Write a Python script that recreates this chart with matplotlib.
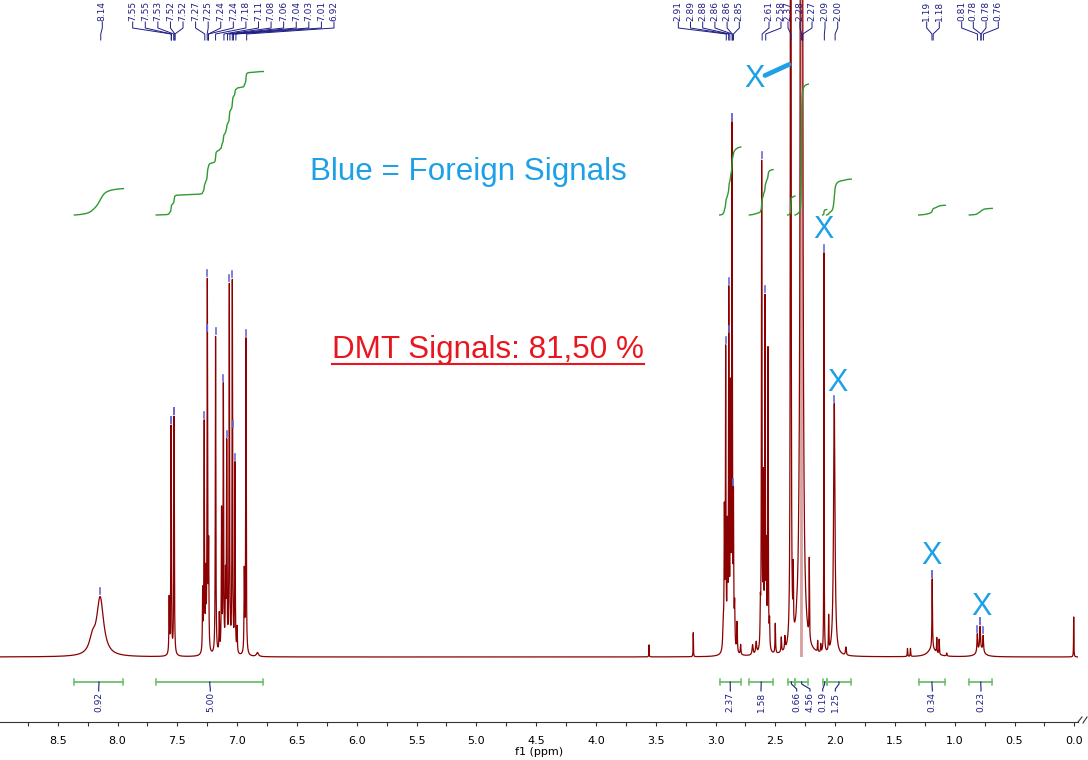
import numpy as np
import matplotlib
matplotlib.use('Agg')
import matplotlib.pyplot as plt
from matplotlib.ticker import MultipleLocator, FuncFormatter
from matplotlib.lines import Line2D

# peak list: shift (ppm), height (px above baseline), line width (ppm)
peak_ppm = [8.210, 8.145,
            7.568, 7.552, 7.527,
            7.288, 7.275, 7.262, 7.249, 7.238,
            7.180,
            7.149, 7.130, 7.115, 7.097, 7.087,
            7.065, 7.040, 7.018, 7.000,
            6.940, 6.926, 6.830,
            3.556, 3.186,
            2.935, 2.926, 2.915, 2.901, 2.889, 2.875, 2.862, 2.850, 2.840, 2.820, 2.790,
            2.690, 2.660,
            2.625, 2.614, 2.600, 2.586, 2.575, 2.561, 2.548,
            2.500, 2.450, 2.420,
            2.371, 2.350, 2.320, 2.281, 2.216, 2.146, 2.120,
            2.093, 2.054, 2.007, 1.910,
            1.395, 1.370, 1.190, 1.188, 1.150, 1.130, 1.067,
            0.785, 0.811, 0.788, 0.762,
            0.005]
peak_height = [14, 58,
               55, 228, 238,
               60, 228, 70, 368, 100,
               318,
               38, 140, 265, 70, 205,
               365, 370, 188, 25,
               80, 316, 4,
               12, 24,
               25, 130, 295, 110, 350, 245, 515, 140, 40, 30, 10,
               10, 12,
               35, 485, 160, 345, 90, 300, 25,
               30, 15, 13,
               4000, 60, 8, 20000, 80, 11, 8,
               400, 35, 252, 8,
               8, 8, 8, 70, 15, 15, 3,
               8, 18, 22, 16,
               40]
peak_width = [0.06, 0.07,
              0.005, 0.005, 0.005,
              0.005, 0.005, 0.005, 0.005, 0.005,
              0.005,
              0.005, 0.005, 0.005, 0.005, 0.005,
              0.005, 0.005, 0.005, 0.005,
              0.005, 0.005, 0.02,
              0.003, 0.003,
              0.01, 0.005, 0.005, 0.005, 0.005, 0.005, 0.005, 0.005, 0.006, 0.006, 0.006,
              0.01, 0.01,
              0.005, 0.005, 0.005, 0.005, 0.005, 0.005, 0.005,
              0.005, 0.006, 0.006,
              0.003, 0.004, 0.005, 0.004, 0.004, 0.004, 0.004,
              0.003, 0.004, 0.014, 0.008,
              0.004, 0.004, 0.08, 0.005, 0.004, 0.004, 0.006,
              0.06, 0.007, 0.007, 0.007,
              0.003]

# picked peaks shown on top
pick_labels = ['8.14',
               '7.55', '7.55', '7.53', '7.52', '7.52', '7.27', '7.25', '7.24', '7.24',
               '7.18', '7.11', '7.08', '7.06', '7.04', '7.03', '7.01', '6.92',
               '2.91', '2.89', '2.88', '2.86', '2.86', '2.85',
               '2.61', '2.58', '2.37', '2.28', '2.27', '2.09', '2.00',
               '1.19', '1.18',
               '0.81', '0.78', '0.78', '0.76']

# integral regions
int_from = [8.36, 7.676, 2.965, 2.717, 2.396, 2.335, 2.104, 2.070, 1.301, 0.878]
int_to = [7.95, 6.781, 2.789, 2.519, 2.335, 2.224, 2.070, 1.865, 1.079, 0.686]
int_value = [0.92, 5.00, 2.37, 1.58, 0.66, 4.56, 0.19, 1.25, 0.34, 0.23]

navy = '#1c1c84'
red_dark = '#8b0000'
green = '#2f9a2f'
blue = '#1ea0e6'

# pixel layout of the original screenshot
W, H = 1088, 760
X0, PXPPM, BASE = 1074.3, 119.6, 657


def xp(px):
    return (X0 - px) / PXPPM


def yp(py):
    return BASE - py


fig = plt.figure(figsize=(W / 100, H / 100), dpi=100)
ax = fig.add_axes([0, 38 / H, 1078 / W, 722 / H])
ax.set_xlim(xp(0), xp(1078))
ax.set_ylim(-65, 657)

ppm = np.linspace(xp(0), xp(1078), 120000)
spec = np.zeros_like(ppm)
for c, h, w in zip(peak_ppm, peak_height, peak_width):
    spec += h / (1 + ((ppm - c) / (w / 2)) ** 2)

big = np.abs(ppm - 2.281) < 0.012
ax.fill_between(ppm[big], 0, spec[big], color='#d6a2a2', lw=0)
ax.plot(ppm, spec, color=red_dark, lw=0.9)

# integral curves and bars
for a, b, v in zip(int_from, int_to, int_value):
    m = (ppm <= a) & (ppm >= b)
    cum = np.cumsum(spec[m])
    cum = cum / cum[-1] * v * 28.7 + yp(215)
    ax.plot(ppm[m], cum, color=green, lw=1)
    ax.plot([a, b], [yp(682)] * 2, color='#6cbf6c', lw=1.3)
    for e in (a, b):
        ax.plot([e, e], [yp(679), yp(685)], color='#6cbf6c', lw=1.1)

int_label_px = [98.7, 210.3, 730.3, 761, 796.7, 810, 822.7, 835.3, 932.3, 981]
for a, b, v, lx in zip(int_from, int_to, int_value, int_label_px):
    cx = (a + b) / 2
    ax.plot([cx, cx, xp(lx), xp(lx)], [yp(682), yp(684), yp(689), yp(691)], color=navy, lw=0.8)
    ax.text(xp(lx), yp(692), '%.2f' % v, rotation=90, ha='center', va='top',
            fontsize=6.5, color=navy)

# peak picking labels
label_px = ([102.3] + [132.7 + 12.58 * i for i in range(17)] +
            [678.3 + 12.2 * i for i in range(6)] +
            [769, 781, 788, 800, 812, 825, 837.7] +
            [926.7, 939.3] + [961.7, 973.3, 986, 998.3])
for lab, lx in zip(pick_labels, label_px):
    v = float(lab)
    ax.text(xp(lx), yp(21), lab, rotation=90, ha='center', va='bottom',
            fontsize=6.5, color=navy)
    ax.plot([xp(lx), xp(lx), v, v], [yp(22), yp(28), yp(34), yp(40)], color=navy, lw=0.7)
    win = np.abs(ppm - v) < 0.008
    k = np.argmax(np.where(win, spec, -1))
    if spec[k] < 640:
        ax.plot([ppm[k], ppm[k]], [spec[k] + 2, spec[k] + 8], color='#6a6ad2', lw=1.2)

# annotations
ax.text(xp(310), yp(180), 'Blue = Foreign Signals', fontsize=22.6, color=blue,
        family='Liberation Sans', ha='left', va='baseline')
t = ax.text(xp(332), yp(358), 'DMT Signals: 81,50 %', fontsize=22.6, color='#e8161e',
            family='Liberation Sans', ha='left', va='baseline')
for px, py in [(754.5, 87), (823.5, 238), (838, 391), (931, 564), (981, 615)]:
    ax.text(xp(px), yp(py), 'X', fontsize=22, color=blue, family='Liberation Sans',
            ha='center', va='baseline')
ax.plot([xp(765), xp(789)], [yp(75.5), yp(64.5)], color=blue, lw=3.4, solid_capstyle='round')

fig.canvas.draw()
bb = t.get_window_extent(fig.canvas.get_renderer())
inv = ax.transData.inverted()
ul0 = inv.transform((bb.x0, 0))[0]
ul1 = inv.transform((bb.x1, 0))[0]
ax.plot([ul0, ul1], [yp(364)] * 2, color='#e8161e', lw=1.5)

# axis
for s in ['top', 'left', 'right']:
    ax.spines[s].set_visible(False)
ax.spines['bottom'].set_color('#333333')
ax.set_yticks([])
ax.xaxis.set_major_locator(MultipleLocator(0.5))
ax.xaxis.set_minor_locator(MultipleLocator(0.25))
ax.xaxis.set_major_formatter(FuncFormatter(lambda v, _: ('%.1f' % v).replace('-0.0', '0.0')))
ax.tick_params(axis='x', which='both', direction='out', length=3, width=0.8,
               color='#333333', labelsize=8, pad=7)
ax.set_xlabel('f1 (ppm)', fontsize=8, labelpad=1)

fig.add_artist(Line2D([1078 / W, 1082 / W], [(H - 722) / H, (H - 717) / H], color='#333333', lw=0.8))
fig.add_artist(Line2D([1083 / W, 1087 / W], [(H - 723) / H, (H - 717) / H], color='#333333', lw=0.8))

fig.savefig('out.png', dpi=100)
